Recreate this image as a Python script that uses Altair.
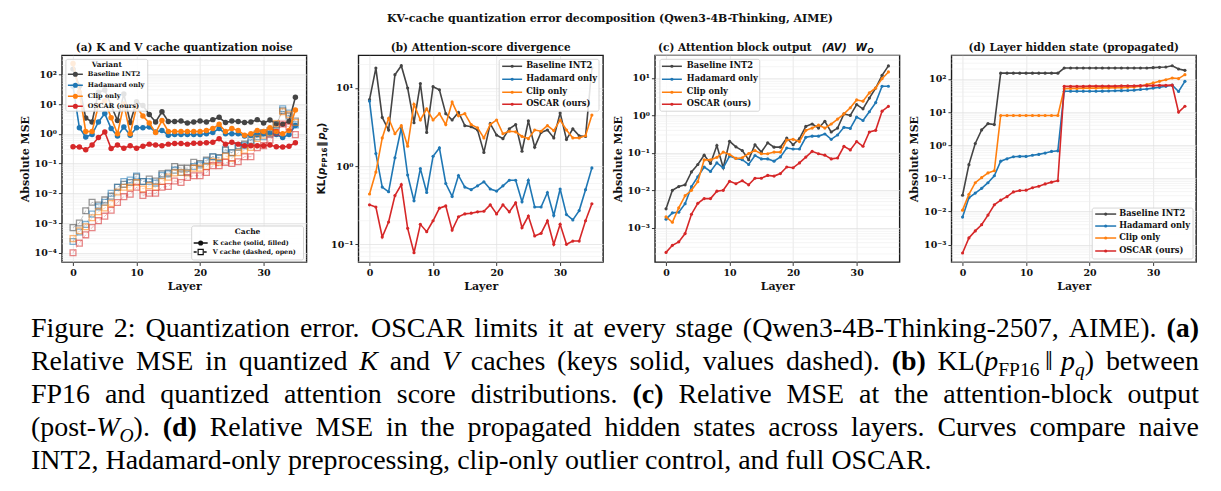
import re
import altair as alt
import pandas as pd

LAYERS = list(range(36))
VARIANTS = ["Baseline INT2", "Hadamard only", "Clip only", "OSCAR (ours)"]
COLORS = ["#444444", "#1f77b4", "#ff7f0e", "#d62728"]

# (a) K cache (solid, filled) and V cache (dashed, open) MSE per layer
a_k_base = [150, 40, 3.4, 2.5, 25, 30, 9, 2.8, 22, 2.4, 12, 9, 4.5, 2.5, 5.5, 2.6, 2.6, 2.7,
            2.3, 2.5, 2.7, 2.5, 3.0, 3.6, 2.4, 2.7, 2.6, 2.4, 2.5, 3.0, 2.3, 2.9, 2.2, 2.1, 2.6, 17]
a_k_had = [40, 1.6, 0.78, 0.95, 2.5, 4.8, 1.5, 0.85, 1.7, 0.9, 1.6, 1.6, 1.7, 1.15, 1.3, 0.9, 0.95, 0.95,
           0.95, 0.95, 0.95, 1.0, 1.1, 1.5, 1.0, 1.0, 1.0, 0.85, 0.9, 0.95, 1.0, 1.05, 0.95, 0.75, 0.95, 1.9]
a_k_clip = [230, 25, 1.2, 1.2, 9, 13, 3.5, 1.0, 10, 1.0, 8, 4, 2.3, 1.1, 2.8, 1.2, 1.2, 1.2,
            1.2, 1.2, 1.2, 1.3, 1.5, 2.1, 1.2, 1.5, 1.3, 0.9, 1.0, 1.3, 1.2, 1.6, 1.2, 1.0, 1.3, 6.3]
a_k_oscar = [0.37, 0.36, 0.29, 0.42, 0.75, 1.15, 0.32, 0.42, 0.33, 0.40, 0.33, 0.38, 0.45, 0.42, 0.40, 0.45, 0.47, 0.47,
             0.45, 0.48, 0.48, 0.50, 0.52, 0.68, 0.45, 0.52, 0.45, 0.40, 0.40, 0.40, 0.40, 0.42, 0.37, 0.36, 0.38, 0.50]

a_v_base = [7e-4, 1.0e-3, 2.6e-3, 5e-3, 4e-3, 6e-3, 8e-3, 1.6e-2, 2.0e-2, 2.3e-2, 3.5e-2, 2.5e-2, 3.0e-2, 2.6e-2,
            4.5e-2, 4.8e-2, 8e-2, 7e-2, 7e-2, 1.1e-1, 1.0e-1, 1.3e-1, 1.7e-1, 1.6e-1, 2.8e-1, 2.3e-1, 4.0e-1,
            4.5e-1, 6e-1, 1.0, 1.1, 1.3, 2.0, 6.0, 4.0, 2.7]
a_v_had = [2.4e-4, 5e-4, 9e-4, 2e-3, 3.5e-3, 5e-3, 1e-2, 1.6e-2, 2.5e-2, 2.8e-2, 3.8e-2, 2.5e-2, 2.5e-2, 2.2e-2,
           4e-2, 4.5e-2, 6e-2, 5e-2, 5e-2, 8e-2, 9e-2, 1.2e-1, 1.7e-1, 1.5e-1, 3e-1, 2.3e-1, 3.5e-1, 4e-1,
           5e-1, 8e-1, 8e-1, 1.0, 2.0, 7.0, 5.0, 2.0]
a_v_clip = [3e-4, 5.5e-4, 7.5e-4, 1.5e-3, 2.4e-3, 3.2e-3, 4.5e-3, 1.1e-2, 1.6e-2, 1.6e-2, 2.3e-2, 1.4e-2, 1.8e-2,
            1.6e-2, 2.5e-2, 3.5e-2, 4.8e-2, 5e-2, 4.8e-2, 7e-2, 7e-2, 8e-2, 1.2e-1, 1.1e-1, 1.8e-1, 1.5e-1,
            2.3e-1, 2.8e-1, 3.5e-1, 7e-1, 9e-1, 1.1, 2.2, 5.5, 4.5, 2.4]
a_v_oscar = [1e-4, 2.1e-4, 4e-4, 7e-4, 1.2e-3, 1.7e-3, 2.7e-3, 4.9e-3, 7.7e-3, 9.3e-3, 1.6e-2, 8.5e-3, 1.0e-2,
             1.0e-2, 1.6e-2, 1.7e-2, 2.6e-2, 2.3e-2, 3.4e-2, 3.9e-2, 3.9e-2, 5e-2, 8.5e-2, 8.5e-2, 1.1e-1,
             1.0e-1, 1.15e-1, 1.7e-1, 1.7e-1, 3.4e-1, 4e-1, 6.2e-1, 1.1, 2.15, 1.7, 0.94]

# (b) KL divergence of attention scores
b_base = [7.1, 18, 4.2, 2.9, 14.8, 19.3, 10, 3.6, 11.4, 2.7, 10.4, 9.5, 4.7, 3.9, 4.9, 3.3, 3.2, 2.9,
          1.5, 3.5, 2.5, 2.25, 3.0, 3.4, 1.55, 3.8, 1.75, 2.7, 2.9, 2.3, 4.8, 2.2, 3.0, 2.45, 2.4, 18]
b_had = [6.8, 1.45, 0.54, 0.47, 1.28, 3.1, 0.77, 0.36, 0.93, 0.46, 1.34, 1.71, 0.6, 0.41, 0.76, 0.54, 0.50, 0.56,
         0.63, 0.51, 0.48, 0.56, 0.66, 0.66, 0.35, 0.66, 0.30, 0.30, 0.46, 0.234, 0.51, 0.24, 0.205, 0.27, 0.50, 0.95]
b_clip = [0.44, 0.84, 2.3, 4.1, 2.6, 3.3, 1.8, 6.2, 3.9, 5.4, 3.9, 4.7, 3.4, 6.6, 4.4, 4.7, 3.4, 3.1,
          2.3, 3.4, 3.9, 2.6, 2.8, 2.75, 2.4, 2.25, 2.9, 2.8, 3.3, 2.85, 3.9, 2.9, 2.3, 2.3, 2.45, 4.5]
b_oscar = [0.32, 0.30, 0.124, 0.193, 0.42, 0.58, 0.16, 0.078, 0.18, 0.145, 0.20, 0.29, 0.31, 0.152, 0.225, 0.245,
           0.25, 0.26, 0.265, 0.32, 0.245, 0.32, 0.26, 0.34, 0.163, 0.23, 0.128, 0.138, 0.20, 0.10, 0.18, 0.10,
           0.11, 0.11, 0.20, 0.33]

# (c) attention block output MSE
c_base = [3.2e-3, 1.0e-2, 1.26e-2, 1.4e-2, 3.1e-2, 4.9e-2, 8.7e-2, 5.2e-2, 0.157, 4e-2, 0.204, 0.145, 0.115,
          6.6e-2, 0.165, 0.105, 0.185, 0.142, 0.142, 0.25, 0.165, 0.24, 0.51, 0.59, 0.46, 0.70, 0.36, 0.46,
          1.1, 1.0, 1.95, 1.5, 2.9, 5.4, 11.8, 21]
c_had = [1.7e-3, 2.5e-3, 2.6e-3, 4.4e-3, 1.25e-2, 2.3e-2, 4.2e-2, 3.2e-2, 5.4e-2, 4e-2, 8.2e-2, 7.1e-2, 6.6e-2,
         4.9e-2, 8.5e-2, 6.9e-2, 6.9e-2, 6e-2, 7.8e-2, 0.135, 0.127, 0.127, 0.26, 0.28, 0.28, 0.32, 0.23, 0.30,
         0.48, 0.45, 0.9, 0.73, 1.25, 2.2, 6.0, 6.0]
c_clip = [1.95e-3, 1.4e-3, 3.4e-3, 7.2e-3, 1.0e-2, 1.7e-2, 6.5e-2, 6.5e-2, 7.6e-2, 0.105, 9e-2, 7.1e-2, 7.4e-2,
          9.6e-2, 0.115, 9.5e-2, 9.5e-2, 0.105, 0.105, 0.22, 0.23, 0.20, 0.40, 0.46, 0.55, 0.46, 0.59, 0.80,
          1.1, 1.6, 2.6, 2.4, 4.0, 5.4, 9.6, 14.5]
c_oscar = [2.2e-4, 3.4e-4, 4.2e-4, 7e-4, 2.3e-3, 4.5e-3, 6e-3, 6e-3, 9.5e-3, 1.0e-2, 1.74e-2, 1.5e-2, 1.8e-2,
           1.4e-2, 2.1e-2, 2.1e-2, 2.5e-2, 2.4e-2, 2.8e-2, 4.2e-2, 4e-2, 5.4e-2, 7.7e-2, 0.11, 9.5e-2, 8.7e-2,
           6.9e-2, 7.3e-2, 0.15, 0.12, 0.2, 0.15, 0.36, 0.40, 1.3, 1.75]

# (d) propagated hidden-state MSE
d_base = [0.031, 0.26, 1.13, 2.9, 4.5, 4.2, 150, 150, 150, 150, 150, 150, 150, 150, 150, 150,
          214, 214, 214, 214, 214, 214, 214, 214, 214, 214, 214, 214, 214, 214, 220, 225, 230, 250, 200, 182]
d_had = [6.8e-3, 0.026, 0.036, 0.05, 0.074, 0.12, 0.33, 0.39, 0.45, 0.46, 0.46, 0.50, 0.53, 0.58, 0.65, 0.68,
         42.5, 42.5, 42.5, 42.5, 42.5, 42.5, 43, 43.5, 44, 44.5, 45, 46, 48, 50, 53, 56, 60, 65, 42, 85]
d_clip = [0.011, 0.033, 0.074, 0.105, 0.146, 0.17, 7.9, 7.9, 7.9, 7.9, 7.9, 7.9, 7.9, 7.9, 7.9, 7.9,
          51, 52, 52, 53, 53, 53, 54, 54, 55, 55, 56, 57, 60, 68, 76, 85, 95, 107, 103, 135]
d_oscar = [5.6e-4, 1.6e-3, 2.6e-3, 4e-3, 7.8e-3, 1.6e-2, 2.2e-2, 2.8e-2, 3.9e-2, 4.3e-2, 4.4e-2, 5.2e-2, 5.8e-2,
           6.8e-2, 7.7e-2, 8.5e-2, 60, 60, 60, 60, 61, 61, 61, 61, 61, 62, 62, 62, 63, 63, 63, 64, 64, 65, 10, 15]

# Caption, with inline markup: {b:..} bold, {i:..} italic, {s:..} roman subscript,
# {si:..} italic subscript, {g:..} small gap in em
CAPTION = [
    "Figure 2: Quantization error. OSCAR limits it at every stage (Qwen3-4B-Thinking-2507, AIME). {b:(a)}",
    "Relative MSE in quantized {i:K} and {i:V} caches (keys solid, values dashed). {b:(b)} "
    "KL({i:p}{s:FP16}{g:0.2}\u2016{g:0.15}{i:p}{si:q}) between",
    "FP16 and quantized attention score distributions.  {b:(c)} Relative MSE at the attention-block output",
    "(post-{i:W}{si:O}). {b:(d)} Relative MSE in the propagated hidden states across layers. Curves compare naive",
    "INT2, Hadamard-only preprocessing, clip-only outlier control, and full OSCAR.",
]

FONT = "DejaVu Serif"
MATH_FONT = "DejaVu Sans"
CAP_FONT = "Liberation Serif"
W, H = 245, 207
X_DOMAIN = [-1.75, 36.75]
ONE = pd.DataFrame({"k": [0]})
# panel (a) origin on the page; used to lay out the page-level texts
ORIGIN_X, ORIGIN_Y = 61, 54
PAGE_W, PAGE_H = 1221, 491

# Times-compatible advance widths (1/1000 em) for the caption font
_R = dict(zip("ABCDEFGHIJKLMNOPQRSTUVWXYZ",
              [722, 667, 667, 722, 611, 556, 722, 722, 333, 389, 722, 611, 889, 722, 722, 556, 722, 667,
               556, 611, 722, 722, 944, 722, 722, 611]))
_R.update(zip("abcdefghijklmnopqrstuvwxyz",
              [444, 500, 444, 500, 444, 333, 500, 500, 278, 278, 500, 278, 778, 500, 500, 500, 500, 333,
               389, 278, 500, 500, 722, 500, 500, 444]))
_R.update({c: 500 for c in "0123456789"})
_R.update({" ": 250, ".": 250, ",": 250, ":": 278, "(": 333, ")": 333, "-": 333, "\u2016": 420})
_B = dict(_R)
_B.update({"a": 500, "b": 556, "c": 444, "d": 556})
_I = dict(_R)
_I.update({"K": 667, "V": 611, "W": 833, "O": 722, "p": 500, "q": 500})
CAP_SIZE = 28
SUB_SCALE = 0.7


def run_width(text, style):
    if style == "g":
        return float(text) * CAP_SIZE
    table = _B if style == "b" else (_I if style in ("i", "si") else _R)
    scale = SUB_SCALE if style in ("s", "si") else 1.0
    return sum(table.get(ch, 500) for ch in text) / 1000.0 * CAP_SIZE * scale


def parse_word(word):
    runs = []
    for m in re.finditer(r"\{(\w+):([^}]*)\}|([^{]+)", word):
        if m.group(3):
            runs.append((m.group(3), "r"))
        else:
            runs.append((m.group(2), m.group(1)))
    return runs


def sup_label_expr():
    e = "''+round(log(datum.value)/LN10)"
    for a, b in [("-", "\u207b"), ("0", "\u2070"), ("1", "\u00b9"), ("2", "\u00b2"),
                 ("3", "\u00b3"), ("4", "\u2074")]:
        e = f"replace({e}, '{a}', '{b}')"
    return "'10' + " + e


def x_enc():
    return alt.X("layer:Q", scale=alt.Scale(domain=X_DOMAIN, nice=False, zero=False),
                 axis=alt.Axis(values=list(range(0, 36, 5)), title="Layer", labelOverlap=False))


def y_enc(dom, decades, title):
    return alt.Y("value:Q",
                 scale=alt.Scale(type="log", domain=dom, nice=False),
                 axis=alt.Axis(values=[10.0 ** e for e in decades], labelExpr=sup_label_expr(),
                               title=title, labelOverlap=False))


def minor_grid(dom, decades):
    lo, hi = dom
    vals = []
    for e in range(min(decades) - 1, max(decades) + 2):
        for k in range(2, 10):
            v = k * 10.0 ** e
            if lo < v < hi:
                vals.append(v)
    df = pd.DataFrame({"value": vals})
    return alt.Chart(df).mark_rule(color="#eeeeee", strokeWidth=0.6).encode(y=alt.Y("value:Q"))


def series_layers(values, color, dom, decades, ytitle, size, filled=True, shape="circle",
                  dash=None, opacity=1.0, width=1.6):
    df = pd.DataFrame({"layer": LAYERS, "value": values})
    line_kw = dict(color=color, strokeWidth=width, opacity=opacity)
    if dash:
        line_kw["strokeDash"] = dash
    line = alt.Chart(df).mark_line(**line_kw).encode(x=x_enc(), y=y_enc(dom, decades, ytitle))
    if filled:
        pts = alt.Chart(df).mark_point(shape=shape, filled=True, size=size, color=color, opacity=1.0)
    else:
        pts = alt.Chart(df).mark_point(shape=shape, filled=False, size=size, color=color,
                                       strokeWidth=1.3, opacity=0.55)
    pts = pts.encode(x="layer:Q", y="value:Q")
    return [line, pts]


def text_at(txt, x, y, size=9.5, align="center", weight="bold", style="normal", angle=0,
            font=FONT, color="#111111", baseline="middle"):
    kw = dict(align=align, baseline=baseline, font=font, fontSize=size, fontWeight=weight,
              fontStyle=style, color=color)
    if angle:
        kw["angle"] = angle
    return alt.Chart(ONE).mark_text(**kw).encode(x=alt.value(x), y=alt.value(y), text=alt.value(txt))


def legend_box(x0, x1, y0, y1):
    return alt.Chart(ONE).mark_rect(fill="white", fillOpacity=0.85, stroke="#cccccc", strokeWidth=0.8,
                                    cornerRadius=2).encode(x=alt.value(x0), x2=alt.value(x1),
                                                           y=alt.value(y0), y2=alt.value(y1))


def legend_entry(label, color, lx0, lx1, ty, y, size, fsize, filled=True, shape="circle", dash=None):
    rule_kw = dict(color=color, strokeWidth=1.5)
    if dash:
        rule_kw["strokeDash"] = dash
    rule = alt.Chart(ONE).mark_rule(**rule_kw).encode(x=alt.value(lx0), x2=alt.value(lx1), y=alt.value(y))
    if filled:
        pt = alt.Chart(ONE).mark_point(shape=shape, filled=True, size=size, color=color, opacity=1)
    else:
        pt = alt.Chart(ONE).mark_point(shape=shape, filled=True, fill="white", stroke=color,
                                       strokeWidth=1.2, size=size, opacity=1)
    pt = pt.encode(x=alt.value((lx0 + lx1) / 2), y=alt.value(y))
    txt = text_at(label, ty, y, size=fsize, align="left")
    return [rule, pt, txt]


def variant_legend(x0, x1, y0, y1, ys, lx0, lx1, tx, size, fsize, title=None, title_y=None):
    out = [legend_box(x0, x1, y0, y1)]
    if title:
        out.append(text_at(title, (x0 + x1) / 2, title_y, size=fsize + 0.8))
    for name, col, y in zip(VARIANTS, COLORS, ys):
        out += legend_entry(name, col, lx0, lx1, tx, y, size, fsize)
    return out


def caption_layers(left, right, base_y, line_gap):
    out = []
    for li, line in enumerate(CAPTION):
        words = [parse_word(w) for w in line.split()]
        widths = [sum(run_width(t, s) for t, s in w) for w in words]
        if li < len(CAPTION) - 1:
            gap = (right - left - sum(widths)) / (len(words) - 1)
        else:
            gap = 0.25 * CAP_SIZE
        x = left
        y = base_y + li * line_gap
        for w, wd in zip(words, widths):
            cx = x
            for t, s in w:
                if s != "g":
                    size = CAP_SIZE * (SUB_SCALE if s in ("s", "si") else 1.0)
                    dy = 0.22 * CAP_SIZE if s in ("s", "si") else 0
                    out.append(text_at(t, cx - ORIGIN_X, y - ORIGIN_Y + dy, size=size, align="left",
                                       weight="bold" if s == "b" else "normal",
                                       style="italic" if s in ("i", "si") else "normal",
                                       font=CAP_FONT, color="#000000", baseline="alphabetic"))
                cx += run_width(t, s)
            x += wd + gap
    return out


# ---------- panel (a) ----------
A_DOM, A_DEC = [4.9e-5, 437], [-4, -3, -2, -1, 0, 1, 2]
# transparent sheet spanning the whole page, so the page origin stays fixed
a_layers = [alt.Chart(ONE).mark_rect(fill="white", opacity=0).encode(
    x=alt.value(-ORIGIN_X), x2=alt.value(PAGE_W - ORIGIN_X),
    y=alt.value(-ORIGIN_Y), y2=alt.value(PAGE_H - ORIGIN_Y))]
a_layers.append(minor_grid(A_DOM, A_DEC))
for k_vals, v_vals, col in zip([a_k_base, a_k_had, a_k_clip, a_k_oscar],
                               [a_v_base, a_v_had, a_v_clip, a_v_oscar], COLORS):
    a_layers += series_layers(k_vals, col, A_DOM, A_DEC, "Absolute MSE", 30)
    a_layers += series_layers(v_vals, col, A_DOM, A_DEC, "Absolute MSE", 34, filled=False,
                              shape="square", dash=[4, 2], opacity=0.3, width=1.0)
a_layers += variant_legend(4, 86, 4, 56, [19, 30, 41, 51], 6, 21, 26, 26, 6.6, title="Variant", title_y=10)
a_layers.append(legend_box(130, 242, 171, 205))
a_layers.append(text_at("Cache", 186, 177, size=7.5))
a_layers += legend_entry("K cache (solid, filled)", "#111111", 132, 146, 151, 188, 26, 6.4)
a_layers += legend_entry("V cache (dashed, open)", "#111111", 132, 146, 151, 197, 26, 6.4,
                         filled=False, shape="square", dash=[3, 2])
a_layers.append(text_at("(a) K and V cache quantization noise", W / 2, -7.5, size=10.5))
# figure title
a_layers.append(text_at("KV-cache quantization error decomposition (Qwen3-4B-Thinking, AIME)",
                        610 - ORIGIN_X, 18 - ORIGIN_Y, size=11))
# caption below the panels
a_layers += caption_layers(30, 1200, 336, 33)
panel_a = alt.layer(*a_layers).properties(width=W, height=H)

# ---------- panel (b) ----------
B_DOM, B_DEC = [0.0594, 26.2], [-1, 0, 1]
b_layers = [minor_grid(B_DOM, B_DEC)]
for vals, col in zip([b_base, b_had, b_clip, b_oscar], COLORS):
    b_layers += series_layers(vals, col, B_DOM, B_DEC, None, 10)
b_layers += variant_legend(141, 241, 4, 56, [11, 24, 37, 49], 144, 164, 168, 10, 8.3)
b_layers.append(text_at("(b) Attention-score divergence", W / 2, -7.5, size=10.5))
# rotated y-axis title KL(p_FP16 || p_q), assembled from pieces reading upward
KL_X = -36
for txt, y, dx, size, sty in [("KL(", 139.5, 0, 10.5, "normal"), ("p", 119.9, 0, 10.5, "italic"),
                              ("FP16", 112.4, 2.5, 7.2, "normal"), ("\u2016", 91.5, 0, 10.5, "normal"),
                              ("p", 84.7, 0, 10.5, "italic"), ("q", 77.2, 2.5, 7.2, "italic"),
                              (")", 72.2, 0, 10.5, "normal")]:
    b_layers.append(text_at(txt, KL_X + dx, y, size=size, align="left", style=sty, angle=270,
                            font=MATH_FONT))
panel_b = alt.layer(*b_layers).properties(width=W, height=H)

# ---------- panel (c) ----------
C_DOM, C_DEC = [1.22e-4, 40.3], [-3, -2, -1, 0, 1]
c_layers = [minor_grid(C_DOM, C_DEC)]
for vals, col in zip([c_base, c_had, c_clip, c_oscar], COLORS):
    c_layers += series_layers(vals, col, C_DOM, C_DEC, "Absolute MSE", 10)
c_layers += variant_legend(5, 105, 4, 56, [11, 24, 37, 49], 7, 27, 32, 10, 8.3)
c_layers.append(text_at("(c) Attention block output", 157, -7.5, size=10.5, align="right"))
c_layers.append(text_at("(AV)", 167, -7.5, size=10.5, align="left", style="italic", font=MATH_FONT))
c_layers.append(text_at("W", 201, -7.5, size=10.5, align="left", style="italic", font=MATH_FONT))
c_layers.append(text_at("O", 213, -4.5, size=7.2, align="left", style="italic", font=MATH_FONT))
panel_c = alt.layer(*c_layers).properties(width=W, height=H)

# ---------- panel (d) ----------
D_DOM, D_DEC = [3.0e-4, 518], [-3, -2, -1, 0, 1, 2]
d_layers = [minor_grid(D_DOM, D_DEC)]
for vals, col in zip([d_base, d_had, d_clip, d_oscar], COLORS):
    d_layers += series_layers(vals, col, D_DOM, D_DEC, "Absolute MSE", 10)
d_layers += variant_legend(141, 242, 153, 204, [159, 171, 183, 196], 144, 165, 168, 10, 8.3)
d_layers.append(text_at("(d) Layer hidden state (propagated)", W / 2, -7.5, size=10.5))
panel_d = alt.layer(*d_layers).properties(width=W, height=H)

chart = alt.hconcat(panel_a, panel_b, panel_c, panel_d, spacing=52, bounds="flush").properties(
    padding=0,
).configure_view(
    stroke="#1a1a1a", strokeWidth=1.4
).configure_axis(
    labelFont=FONT, labelFontWeight="bold", labelFontSize=9.5, labelColor="#111111",
    titleFont=FONT, titleFontWeight="bold", titleFontSize=11, titleColor="#111111",
    tickSize=3.5, tickColor="#222222", tickWidth=0.9, domain=False,
    gridColor="#e0e0e0", gridWidth=0.7, labelPadding=2, titlePadding=4,
).configure_axisX(labelFlush=False)

chart.save("out.html", embed_options={"renderer": "svg", "actions": False})
